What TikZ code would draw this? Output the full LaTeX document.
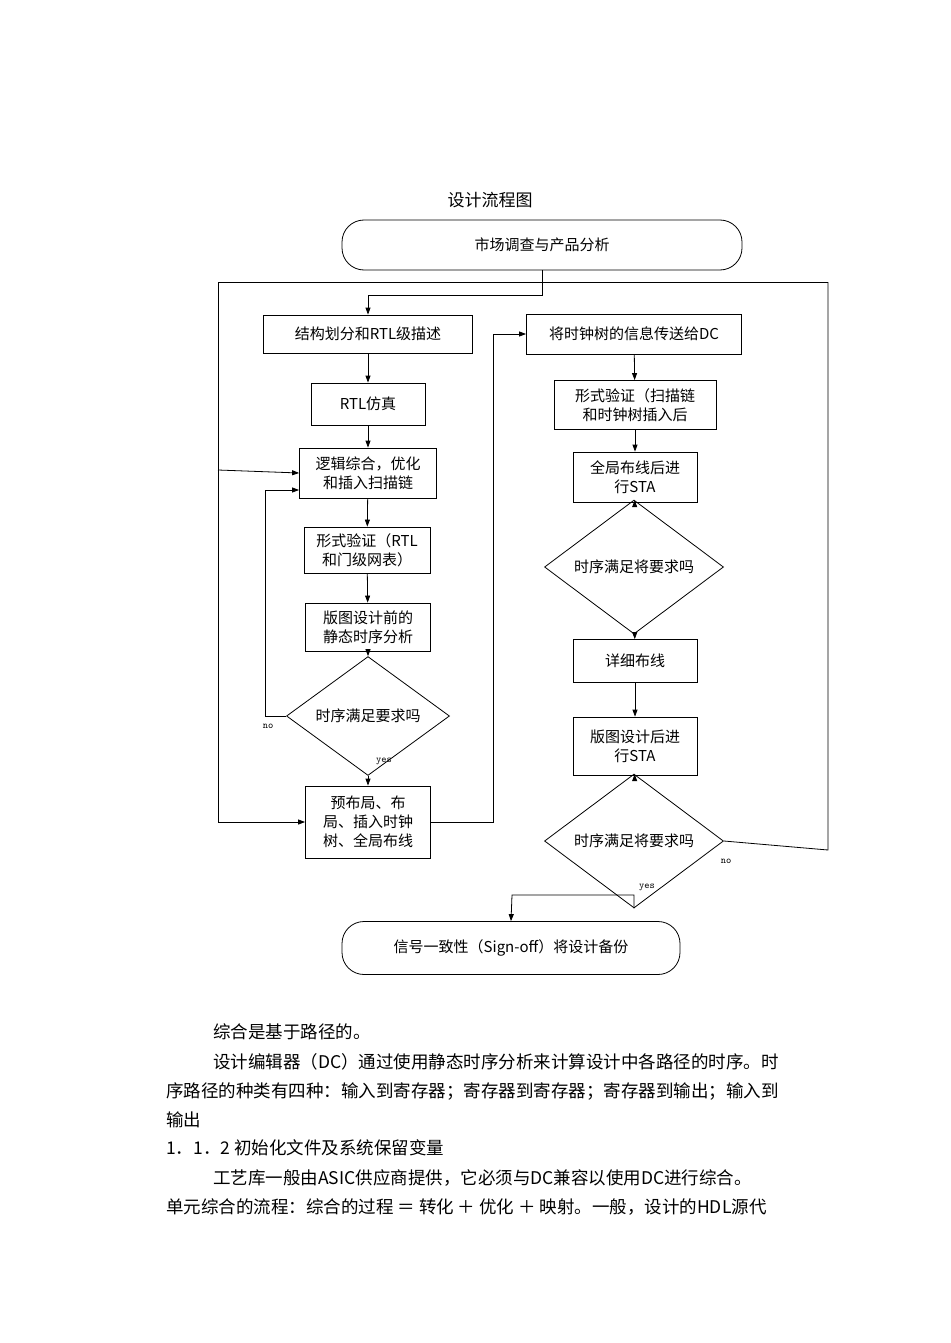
\documentclass[tikz,border=0pt]{standalone}
\usepackage{fontspec}
\setmainfont{Noto Sans CJK SC}
\usetikzlibrary{shapes.geometric,arrows.meta}
\begin{document}
\begin{tikzpicture}[x=1pt,y=-1pt,
  box/.style={draw,thick,align=center,font=\fontsize{15}{19}\selectfont,inner sep=0pt},
  rbox/.style={box,rounded corners=22pt},
  dia/.style={draw,thick,diamond,aspect=2.2,inner sep=0pt,font=\fontsize{15}{19}\selectfont},
  ar/.style={-{Triangle[length=7pt,width=5pt]},thick},
  ln/.style={thick},
  lab/.style={font=\fontsize{10}{12}\selectfont\ttfamily},
  para/.style={anchor=west,font=\fontsize{17.5}{20}\selectfont,inner sep=0pt}]
\useasboundingbox (0,0) rectangle (950,1343);
\node (title) at (490,200) {\fontsize{17}{20}\selectfont 设计流程图};
\node[rbox,minimum width=400pt,minimum height=50pt] (top) at (542,245) {市场调查与产品分析};
% left column
\node[box,minimum width=209pt,minimum height=38pt] (a1) at (368,334) {结构划分和RTL级描述};
\node[box,minimum width=114pt,minimum height=42pt] (a2) at (368,404) {RTL仿真};
\node[box,minimum width=137pt,minimum height=50pt] (a3) at (368,473) {逻辑综合，优化\\和插入扫描链};
\node[box,minimum width=126pt,minimum height=46pt] (a4) at (367,550) {形式验证（RTL\\和门级网表）};
\node[box,minimum width=125pt,minimum height=48pt] (a5) at (368,627) {版图设计前的\\静态时序分析};
\node[draw,thick,shape=diamond,minimum width=163pt,minimum height=72pt,inner sep=0pt,font=\fontsize{15}{19}\selectfont] (d1) at (368,716) {时序满足要求吗};
\node[box,minimum width=125pt,minimum height=72pt] (a6) at (368,822) {预布局、布\\局、插入时钟\\树、全局布线};
% right column
\node[box,minimum width=215pt,minimum height=40pt] (b1) at (634,334) {将时钟树的信息传送给DC};
\node[box,minimum width=162pt,minimum height=49pt] (b2) at (635,405) {形式验证（扫描链\\和时钟树插入后};
\node[box,minimum width=124pt,minimum height=50pt] (b3) at (635,477) {全局布线后进\\行STA};
\node[draw,thick,shape=diamond,minimum width=179pt,minimum height=75pt,inner sep=0pt,font=\fontsize{15}{19}\selectfont] (d2) at (634,567) {时序满足将要求吗};
\node[box,minimum width=124pt,minimum height=43pt] (b4) at (635,661) {详细布线};
\node[box,minimum width=124pt,minimum height=58pt] (b5) at (635,746) {版图设计后进\\行STA};
\node[draw,thick,shape=diamond,minimum width=179pt,minimum height=72pt,inner sep=0pt,font=\fontsize{15}{19}\selectfont] (d3) at (634,841) {时序满足将要求吗};
\node[rbox,minimum width=338pt,minimum height=53pt] (bot) at (511,948) {信号一致性（Sign-off）将设计备份};
% coordinates
\coordinate (p1) at (542,295);
\coordinate (tl) at (218,282);
\coordinate (tr) at (828,282);
% connectors
\draw[ar] (top.south) -- (p1) -| (a1.north);
\draw[ln] (tl) -- (tr);
\draw[ar] (tl) -- (218,822) -- (a6.west);
\draw[ar] (218,470) -- (a3.west);
\draw[ar] (a1) -- (a2);
\draw[ar] (a2) -- (a3);
\draw[ar] (a3) -- (a4);
\draw[ar] (a4) -- (a5);
\draw[ar] (a5) -- (d1);
\draw[ar] (d1.west) -- (265,716) -- (265,490) -- (a3.west |- 0,490);
\node[lab] at (268,726) {no};
\draw[ar] (d1) -- (a6);
\node[lab] at (384,761) {yes};
\draw[ar] (a6.east) -- (493,822) -- (493,334) -- (b1.west);
\draw[ar] (b1) -- (b2);
\draw[ar] (b2) -- (b3);
\draw[ar] (b3) -- (d2);
\draw[ar] (d2) -- (b4);
\draw[ar] (b4) -- (b5);
\draw[ar] (b5) -- (d3);
\draw[ln] (d3.east) -- (828,850) -- (tr);
\node[lab] at (726,861) {no};
\draw[ar] (d3.south) -- (634,895) -- (512,895) -- (bot.north);
\node[lab] at (647,887) {yes};
% paragraph
\node[para] (t1) at (213,1032) {综合是基于路径的。};
\node[para] (t2) at (213,1062) {设计编辑器（DC）通过使用静态时序分析来计算设计中各路径的时序。时};
\node[para] (t3) at (166,1091) {序路径的种类有四种：输入到寄存器；寄存器到寄存器；寄存器到输出；输入到};
\node[para] (t4) at (166,1120) {输出};
\node[para] (t5) at (166,1148) {1．1．2 初始化文件及系统保留变量};
\node[para] (t6) at (213,1178) {工艺库一般由ASIC供应商提供，它必须与DC兼容以使用DC进行综合。};
\node[para] (t7) at (166,1207) {单元综合的流程：综合的过程 ＝ 转化 ＋ 优化 ＋ 映射。一般，设计的HDL源代};
\end{tikzpicture}
\end{document}
